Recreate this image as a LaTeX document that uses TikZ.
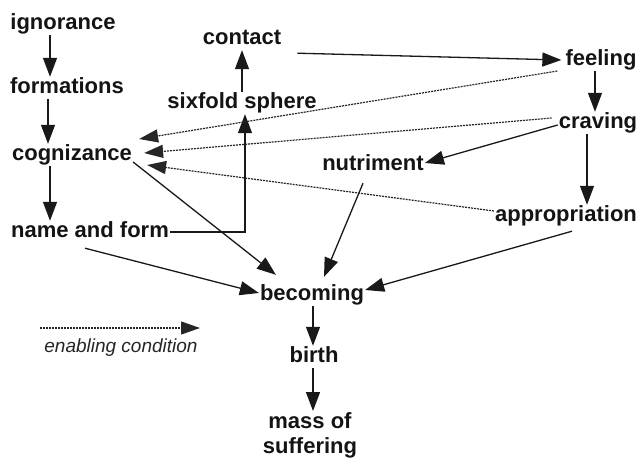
\documentclass[tikz,border=0pt]{standalone}
\usepackage{fontspec}
\setmainfont{Liberation Sans}
\usetikzlibrary{arrows.meta}
\begin{document}
\begin{tikzpicture}[x=1pt,y=-1pt,
  lbl/.style={font=\bfseries\fontsize{22}{26}\selectfont, text=black!92, inner sep=1pt, text height=15pt, text depth=5pt},
  arr/.style={line width=1.3pt, black!90, -{Triangle[length=19pt,width=14pt]}},
  darr/.style={line width=1.2pt, black!85, dash pattern=on 2pt off 1pt, -{Triangle[length=19pt,width=13pt]}}]
\fill[white] (0,0) rectangle (639,458);
\useasboundingbox (0,0) rectangle (639,458);
% nodes
\node[lbl] (ign)  at (63,24)  {ignorance};
\node[lbl] (form) at (67,88)  {formations};
\node[lbl] (cog)  at (72,155) {cognizance};
\node[lbl] (naf)  at (90,232) {name and form};
\node[lbl] (cont) at (242,39) {contact};
\node[lbl] (six)  at (242,103) {sixfold sphere};
\node[lbl] (feel) at (601,60) {feeling};
\node[lbl] (crav) at (598,123) {craving};
\node[lbl] (nutr) at (373,165) {nutriment};
\node[lbl] (appr) at (566,216) {appropriation};
\node[lbl] (beco) at (312,295) {becoming};
\node[lbl] (birt) at (314,357) {birth};
\node[font=\bfseries\fontsize{22}{25}\selectfont, text=black!92, inner sep=1pt, align=center, anchor=north] (mass) at (310,411) {mass of\\suffering};
\node[font=\itshape\fontsize{19}{22}\selectfont, text=black!85, inner sep=1pt] (legt) at (121,348) {enabling condition};
\coordinate (leg1) at (40,328);
\coordinate (leg2) at (200,328);
% solid arrows
\draw[arr] ([xshift=-13pt]ign.south) -- ([xshift=-17pt]form.north);
\draw[arr] ([xshift=-19pt]form.south) -- ([xshift=-24pt]cog.north);
\draw[arr] ([xshift=-22pt]cog.south) -- ([xshift=-40pt]naf.north);
\draw[arr] (six.north) -- (cont.south);
\draw[arr] (naf.east) -| ([xshift=3pt]six.south);
\draw[arr] ([xshift=15pt,yshift=-3pt]cont.south east) -- ([xshift=-3pt]feel.west);
\draw[arr] ([xshift=-6pt]feel.south) -- ([xshift=-3pt]crav.north);
\draw[arr] ([yshift=-2pt]crav.west) -- ([yshift=2pt]nutr.east);
\draw[arr] ([xshift=-11pt]crav.south) -- ([xshift=21pt]appr.north);
\draw[arr] ([xshift=-10pt,yshift=-7pt]nutr.south) -- ([xshift=12pt,yshift=7pt]beco.north);
\draw[arr] ([xshift=6pt,yshift=-4pt]appr.south) -- ([yshift=5pt]beco.east);
\draw[arr] ([yshift=-7pt]cog.east) -- ([xshift=17pt,yshift=9pt]beco.north west);
\draw[arr] ([xshift=-5pt,yshift=-5pt]naf.south) -- ([yshift=2pt]beco.west);
\draw[arr] ([xshift=1pt]beco.south) -- ([xshift=-1pt]birt.north);
\draw[arr] ([xshift=-1pt]birt.south) -- ([xshift=3pt]mass.north);
% dotted arrows
\draw[darr] ([xshift=-7pt,yshift=-11pt]feel.west) -- ([xshift=6pt,yshift=16pt]cog.east);
\draw[darr] ([xshift=-6pt,yshift=5pt]crav.west) -- ([xshift=11pt,yshift=2pt]cog.east);
\draw[darr] ([yshift=5pt]appr.west) -- ([xshift=14pt,yshift=-10pt]cog.east);
\draw[darr] (leg1) -- (leg2);
\end{tikzpicture}
\end{document}
